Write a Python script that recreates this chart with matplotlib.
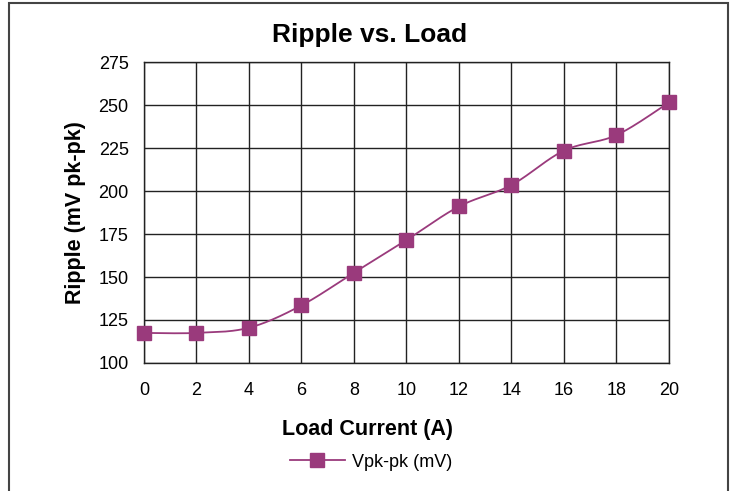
import numpy as np
import matplotlib.pyplot as plt
from matplotlib.patches import Rectangle

plt.rcParams['font.family'] = ['Liberation Sans', 'DejaVu Sans']

load_current = [0, 2, 4, 6, 8, 10, 12, 14, 16, 18, 20]
ripple = [117.5, 117.5, 120.5, 133.5, 152.5, 171.5, 191, 203.5, 223.5, 232.5, 251.5]
series_name = 'Vpk-pk (mV)'
color = '#9a3a7c'


def smooth(x, y, n=30):
    # Excel-style smoothed line (cardinal bezier segments)
    x = np.asarray(x, float)
    y = np.asarray(y, float)
    px = np.concatenate([[x[0]], x, [x[-1]]])
    py = np.concatenate([[y[0]], y, [y[-1]]])
    xs, ys = [], []
    t = np.linspace(0, 1, n)
    for i in range(1, len(px) - 2):
        p0 = np.array([px[i], py[i]])
        p3 = np.array([px[i + 1], py[i + 1]])
        p1 = p0 + (np.array([px[i + 1], py[i + 1]]) - np.array([px[i - 1], py[i - 1]])) / 6
        p2 = p3 - (np.array([px[i + 2], py[i + 2]]) - np.array([px[i], py[i]])) / 6
        b = ((1 - t) ** 3)[:, None] * p0 + (3 * (1 - t) ** 2 * t)[:, None] * p1 \
            + (3 * (1 - t) * t ** 2)[:, None] * p2 + (t ** 3)[:, None] * p3
        xs.extend(b[:, 0])
        ys.extend(b[:, 1])
    return xs, ys


fig = plt.figure(figsize=(7.35, 4.91), dpi=100)
ax = fig.add_axes([0.1959, 0.2607, 0.7143, 0.613])

sx, sy = smooth(load_current, ripple)
ax.plot(sx, sy, color=color, lw=1.3, zorder=3)
ax.plot(load_current, ripple, ls='none', marker='s', ms=9.5, color=color,
        zorder=4, clip_on=False)

ax.set_xlim(0, 20)
ax.set_ylim(100, 275)
ax.set_xticks(range(0, 21, 2))
ax.set_yticks(range(100, 276, 25))
ax.grid(True, color='#222222', lw=1)
ax.set_axisbelow(True)
for s in ax.spines.values():
    s.set_color('#222222')
    s.set_linewidth(1)
ax.tick_params(length=0, labelsize=13)
ax.tick_params(axis='y', pad=11)
ax.tick_params(axis='x', pad=14)
ax.set_xlabel('Load Current (A)', fontsize=15.5, fontweight='bold', labelpad=14)
ax.xaxis.set_label_coords(0.425, -0.185)
ax.set_ylabel('Ripple (mV pk-pk)', fontsize=15.5, fontweight='bold')
ax.yaxis.set_label_coords(-0.111, 0.5)
fig.text(370 / 735, 1 - 35 / 491, 'Ripple vs. Load', fontsize=19,
         fontweight='bold', ha='center', va='center')

# legend below plot
h, = ax.plot([], [], color=color, lw=1.3, marker='s', ms=9.5)
fig.legend([h], [series_name], loc='center', bbox_to_anchor=(0.505, 0.059),
           frameon=False, fontsize=13, handlelength=3.0, handletextpad=0.4)

# outer frame
fig.patches.append(Rectangle((9 / 735, -0.05), 719 / 735, 1.05 - 3.5 / 491,
                             transform=fig.transFigure, fill=False,
                             ec='#444444', lw=1.5))

fig.savefig('out.png', dpi=100)
